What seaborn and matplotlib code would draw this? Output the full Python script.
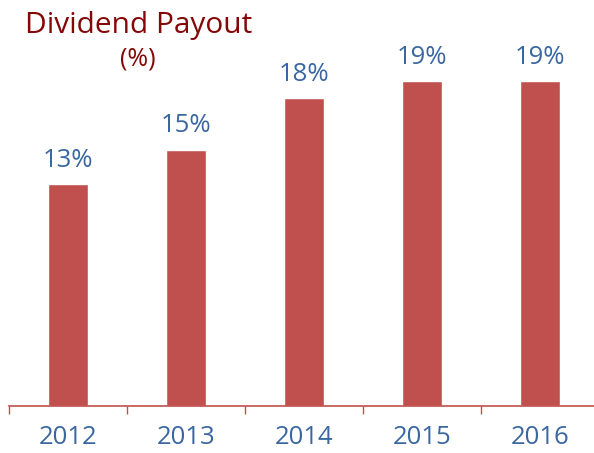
import matplotlib

matplotlib.use("Agg")
import matplotlib.pyplot as plt
import numpy as np
import pandas as pd
import seaborn as sns

years = ["2012", "2013", "2014", "2015", "2016"]
payout = [13, 15, 18, 19, 19]
labels = ["13%", "15%", "18%", "19%", "19%"]

BAR = "#C0504D"
BLUE = "#3B67A0"
TITLE = "#850808"

sns.set_style("white")
plt.rcParams["font.family"] = ["Open Sans", "DejaVu Sans"]

df = pd.DataFrame({"year": years, "payout": payout})

fig = plt.figure(figsize=(5.94, 4.53), dpi=100)
ax = fig.add_axes([9 / 594, (453 - 406) / 453, 590 / 594, 406 / 453])

sns.barplot(data=df, x="year", y="payout", color=BAR, width=0.34,
            saturation=1, ax=ax)

ax.set_xlim(-0.5, 4.5)
ax.set_ylim(0, 406 / 17.1)
ax.set_xlabel("")
ax.set_ylabel("")
ax.set_yticks([])

# labels at centres, tick marks at category boundaries
ax.set_xticks(np.arange(len(years)))
ax.set_xticklabels(years, fontsize=18.5, color=BLUE)
ax.tick_params(axis="x", which="major", length=0, pad=14)
ax.set_xticks(np.arange(len(years) + 1) - 0.5, minor=True)
ax.tick_params(axis="x", which="minor", bottom=True, length=6, width=1,
               color=BAR, direction="out")

for s in ["top", "left", "right"]:
    ax.spines[s].set_visible(False)
ax.spines["bottom"].set_color(BAR)
ax.spines["bottom"].set_linewidth(1.2)

ax.bar_label(ax.containers[0], labels=labels, padding=8, fontsize=18.5,
             color=BLUE)

fig.text(25 / 594, 1 - 26 / 453, "Dividend Payout", fontsize=21.5,
         color=TITLE, ha="left", va="center")
fig.text(138 / 594, 1 - 59 / 453, "(%)", fontsize=18, color=TITLE,
         ha="center", va="center")

fig.savefig("out.png", dpi=100)
plt.close(fig)
